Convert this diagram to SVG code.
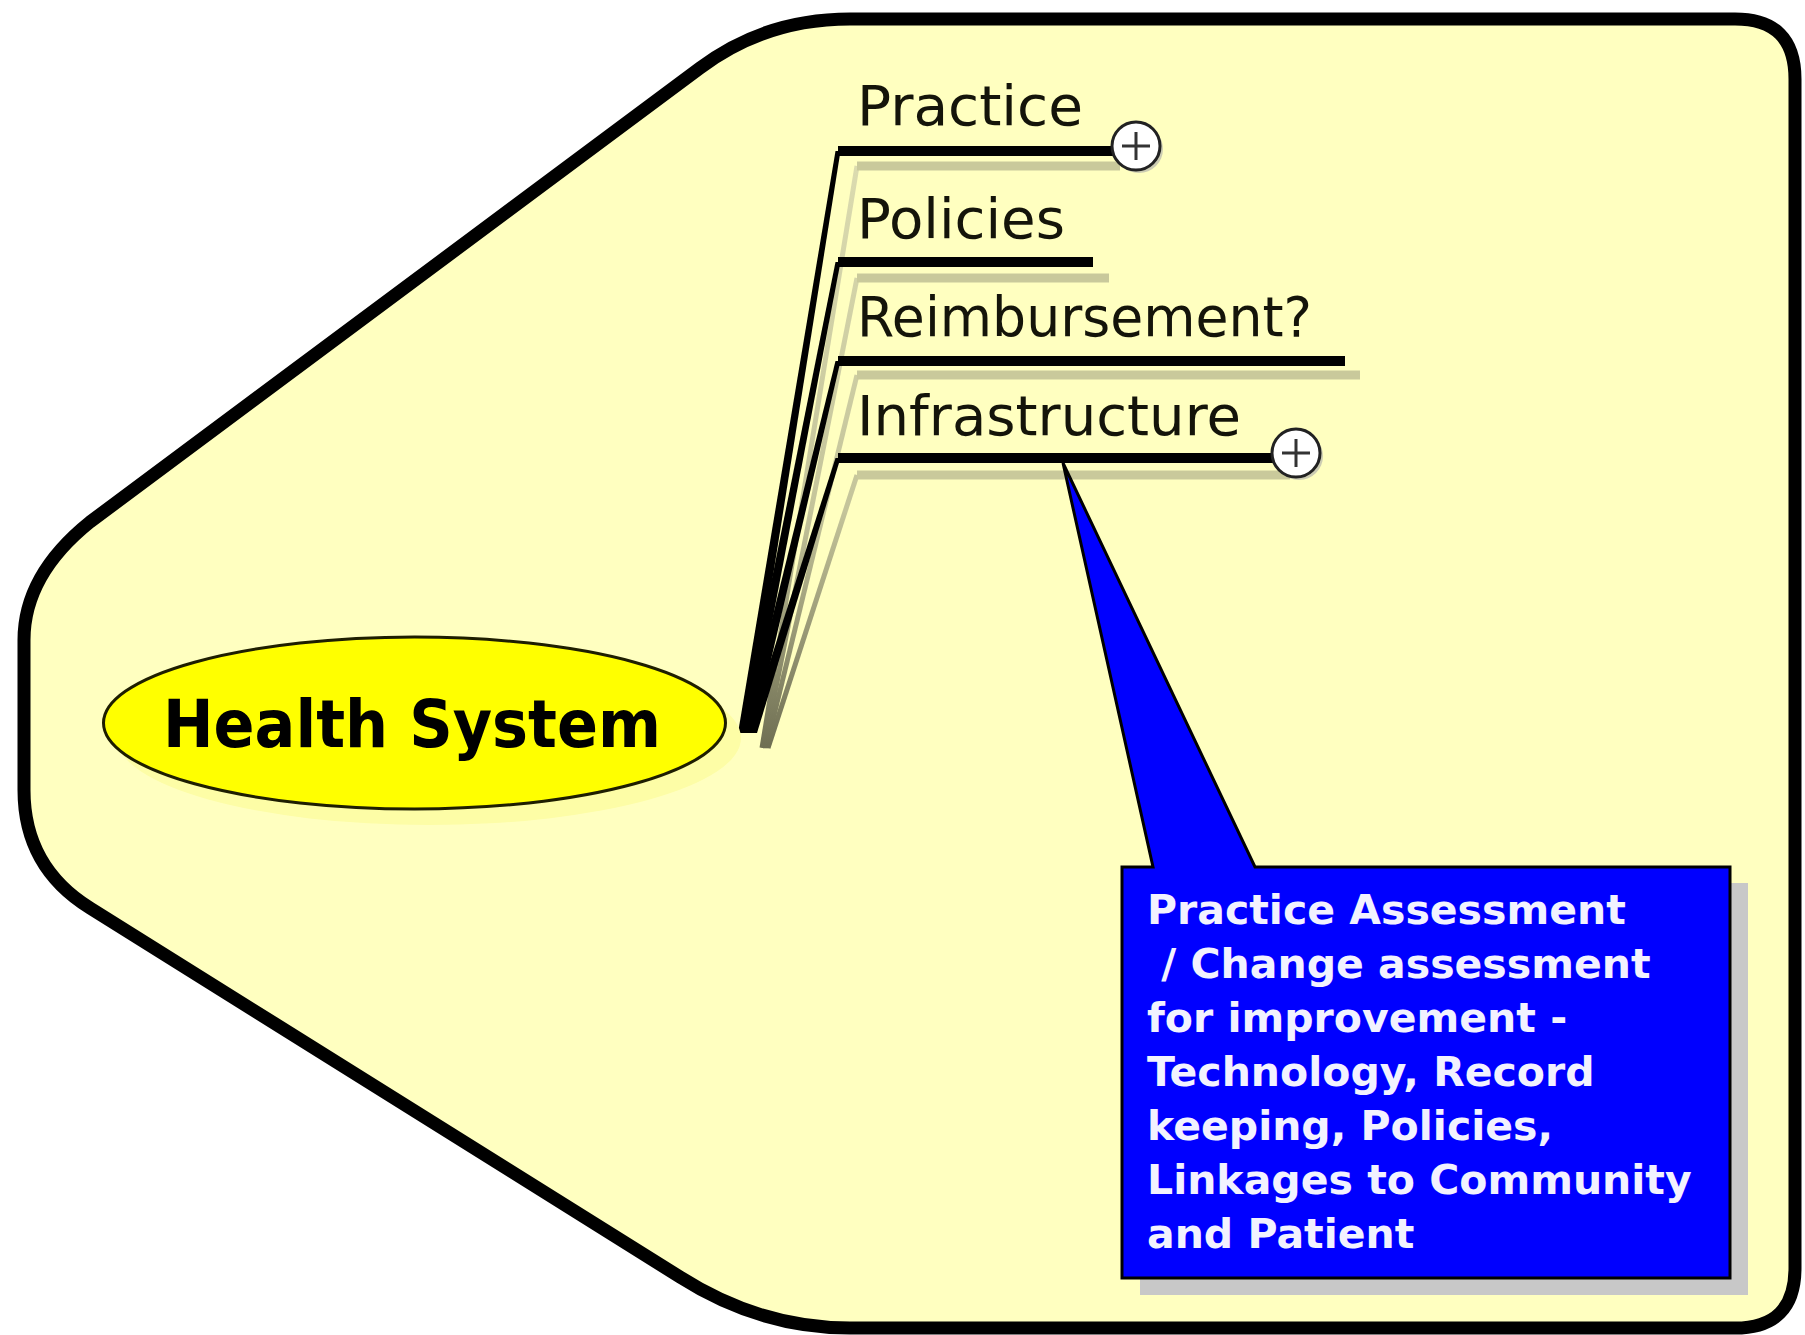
<svg xmlns="http://www.w3.org/2000/svg" width="1805" height="1335" viewBox="0 0 1805 1335">
<style>
.lbl{font-family:"DejaVu Sans","Liberation Sans",sans-serif;font-size:56px;fill:#14140a}
.ul{stroke:#000;stroke-width:10;fill:none}
.sh{stroke:#c9c99b;stroke-width:9;fill:none}
.plus{fill:#fff;stroke:#222;stroke-width:3}
.pl{stroke:#333;stroke-width:3;fill:none}
.ct{font-family:"DejaVu Sans","Liberation Sans",sans-serif;font-weight:bold;font-size:41px;fill:#f2f2ff}
</style>
<defs>
<linearGradient id="shg" gradientUnits="userSpaceOnUse" x1="0" y1="150" x2="0" y2="750">
<stop offset="0" stop-color="#dcdcb0"/>
<stop offset="0.6" stop-color="#c4c49a"/>
<stop offset="1" stop-color="#6e6e52"/>
</linearGradient>
</defs>
<rect x="0" y="0" width="1805" height="1335" fill="#fff"/>
<g id="boundary">
<path d="M850 19 L1735 19 Q1795 19 1795 79 L1795 1268 Q1795 1328 1735 1328 L850 1328 Q760 1328 680 1277 L90 908 Q24 867 24 790 L24 640 Q24 575 90 522 L700 68 Q765 19 850 19 Z" fill="#ffffc0" stroke="#000" stroke-width="13" stroke-linejoin="round"/>
</g>
<g id="connectors">
<g stroke="url(#shg)" stroke-width="5" fill="none">
<line x1="857" y1="166" x2="762" y2="748"/>
<line x1="857" y1="278" x2="764" y2="748"/>
<line x1="857" y1="375" x2="766" y2="748"/>
<line x1="857" y1="475" x2="768" y2="748"/>
</g>
<g fill="#000">
<polygon points="835.5,151 840.5,151 748,733 738,733"/>
<polygon points="835.5,262 840.5,262 751,733 741,733"/>
<polygon points="835.5,361 840.5,361 754,733 744,733"/>
<polygon points="835.5,458 840.5,458 757,733 747,733"/>
</g>
</g>
<g id="health-system">
<ellipse cx="429" cy="738" rx="312" ry="87" fill="#fdfda6"/>
<ellipse cx="414.5" cy="723" rx="311" ry="86" fill="#ffff00" stroke="#1e1e00" stroke-width="3"/>
<text x="412" y="747" text-anchor="middle" font-family="DejaVu Sans, Liberation Sans, sans-serif" font-weight="bold" font-size="66" fill="#000" textLength="498" lengthAdjust="spacingAndGlyphs">Health System</text>
</g>
<g id="practice">
<line class="sh" x1="857" y1="166" x2="1120" y2="166"/>
<line class="ul" x1="838" y1="151" x2="1115" y2="151"/>
<text class="lbl" x="857" y="125" textLength="226" lengthAdjust="spacingAndGlyphs">Practice</text>
<circle cx="1139" cy="149" r="24" fill="#aaa" opacity="0.6"/>
<circle class="plus" cx="1136" cy="146" r="24"/>
<path class="pl" d="M1122 146 H1150 M1136 132 V160"/>
</g>
<g id="policies">
<line class="sh" x1="857" y1="278" x2="1109" y2="278"/>
<line class="ul" x1="838" y1="262" x2="1093" y2="262"/>
<text class="lbl" x="857" y="238" textLength="208" lengthAdjust="spacingAndGlyphs">Policies</text>
</g>
<g id="reimbursement">
<line class="sh" x1="857" y1="375" x2="1360" y2="375"/>
<line class="ul" x1="838" y1="361" x2="1345" y2="361"/>
<text class="lbl" x="857" y="336" textLength="455" lengthAdjust="spacingAndGlyphs">Reimbursement?</text>
</g>
<g id="infrastructure">
<line class="sh" x1="857" y1="475" x2="1290" y2="475"/>
<line class="ul" x1="838" y1="458" x2="1275" y2="458"/>
<text class="lbl" x="857" y="435" textLength="384" lengthAdjust="spacingAndGlyphs">Infrastructure</text>
<circle cx="1299" cy="456" r="24" fill="#aaa" opacity="0.6"/>
<circle class="plus" cx="1296" cy="453" r="24"/>
<path class="pl" d="M1282 453 H1310 M1296 439 V467"/>
</g>
<g id="callout">
<rect x="1140" y="883" width="608" height="412" fill="#c8c8c8"/>
<path d="M1122 867 L1153 867 L1063 463 L1255 867 L1730 867 L1730 1278 L1122 1278 Z" fill="#0000ff" stroke="#000" stroke-width="3" stroke-linejoin="miter"/>
<text class="ct" x="1147" y="924">Practice Assessment</text>
<text class="ct" x="1147" y="978" xml:space="preserve" style="white-space:pre"> / Change assessment</text>
<text class="ct" x="1147" y="1032">for improvement -</text>
<text class="ct" x="1147" y="1086">Technology, Record</text>
<text class="ct" x="1147" y="1140">keeping, Policies,</text>
<text class="ct" x="1147" y="1194">Linkages to Community</text>
<text class="ct" x="1147" y="1248">and Patient</text>
</g>
</svg>
